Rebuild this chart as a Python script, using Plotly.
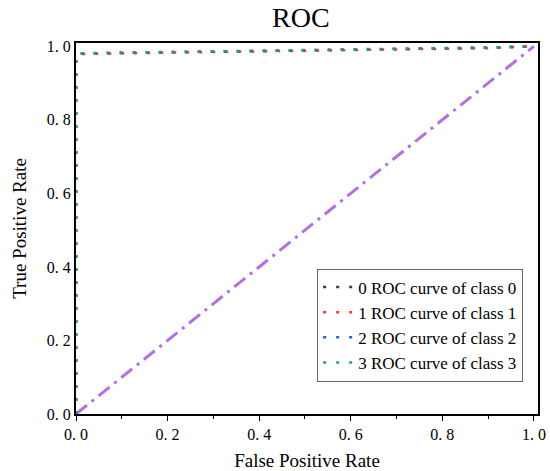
import plotly.graph_objects as go

fpr0 = [0, 0, 0.002, 0.01, 0.1, 0.3, 0.5, 0.7, 0.9, 1.0]
tpr0 = [0, 0.972, 0.978, 0.980, 0.982, 0.985, 0.988, 0.992, 0.996, 1.0]
fpr1 = [0, 0, 0.004, 0.01, 0.1, 0.3, 0.5, 0.7, 0.9, 1.0]
tpr1 = [0, 0.968, 0.976, 0.979, 0.981, 0.984, 0.987, 0.991, 0.995, 1.0]
fpr2 = [0, 0, 0.002, 0.01, 0.1, 0.3, 0.5, 0.7, 0.9, 1.0]
tpr2 = [0, 0.975, 0.979, 0.981, 0.982, 0.985, 0.988, 0.992, 0.996, 1.0]
fpr3 = [0, 0, 0.002, 0.01, 0.1, 0.3, 0.5, 0.7, 0.9, 1.0]
tpr3 = [0, 0.976, 0.979, 0.981, 0.983, 0.986, 0.989, 0.993, 0.997, 1.0]
diag_x = [0, 1]
diag_y = [0, 1]

names = ["0 ROC curve of class 0", "1 ROC curve of class 1",
         "2 ROC curve of class 2", "3 ROC curve of class 3"]
colors = ["#3a3a3a", "#f03a3a", "#2060f0", "#2ca060"]
tick_vals = [0, 0.2, 0.4, 0.6, 0.8, 1.0]
tick_text = ["0. 0", "0. 2", "0. 4", "0. 6", "0. 8", "1. 0"]

FONT = "Liberation Serif"

fig = go.Figure()
fig.add_trace(go.Scatter(x=diag_x, y=diag_y, mode="lines", showlegend=False,
                         line=dict(color="#b46ee6", width=3, dash="14px,6px,3px,6px")))
for fx, ty, nm, c in zip([fpr0, fpr1, fpr2, fpr3], [tpr0, tpr1, tpr2, tpr3], names, colors):
    fig.add_trace(go.Scatter(x=fx, y=ty, mode="lines", name=nm,
                             line=dict(color=c, width=2.5, dash="3px,10px")))

fig.update_layout(
    width=550, height=471,
    margin=dict(l=76, r=12, t=43, b=57),
    paper_bgcolor="white", plot_bgcolor="white",
    font=dict(family=FONT, color="black", size=16),
    title=dict(text="ROC", x=0.547, xanchor="center", y=0.963, yanchor="middle",
               yref="container", font=dict(family=FONT, size=28, color="black")),
    legend=dict(x=0.522, y=0.392, xanchor="left", yanchor="top",
                bgcolor="white", bordercolor="#666", borderwidth=1,
                font=dict(family=FONT, size=17), tracegroupgap=0),
    xaxis=dict(range=[0, 1.009], tickvals=tick_vals, ticktext=tick_text,
               automargin=False, layer="below traces",
               showgrid=False, zeroline=False, showline=True, linecolor="black",
               linewidth=2, mirror=True, ticks="outside", ticklen=5, tickcolor="black",
               minor=dict(ticks="outside", dtick=0.1, ticklen=3, tickcolor="black"),
               tickfont=dict(family=FONT, size=16),
               title=dict(text="False Positive Rate", font=dict(family=FONT, size=19))),
    yaxis=dict(range=[0, 1.009], tickvals=tick_vals, ticktext=tick_text,
               automargin=False, layer="below traces",
               showgrid=False, zeroline=False, showline=True, linecolor="black",
               linewidth=2, mirror=True, ticks="",
               tickfont=dict(family=FONT, size=16),
               title=dict(text="True Positive Rate", font=dict(family=FONT, size=19))),
)

fig.write_html("out.html", config={"displayModeBar": False},
               post_script="document.body.style.margin='0';document.body.style.overflow='hidden';")
